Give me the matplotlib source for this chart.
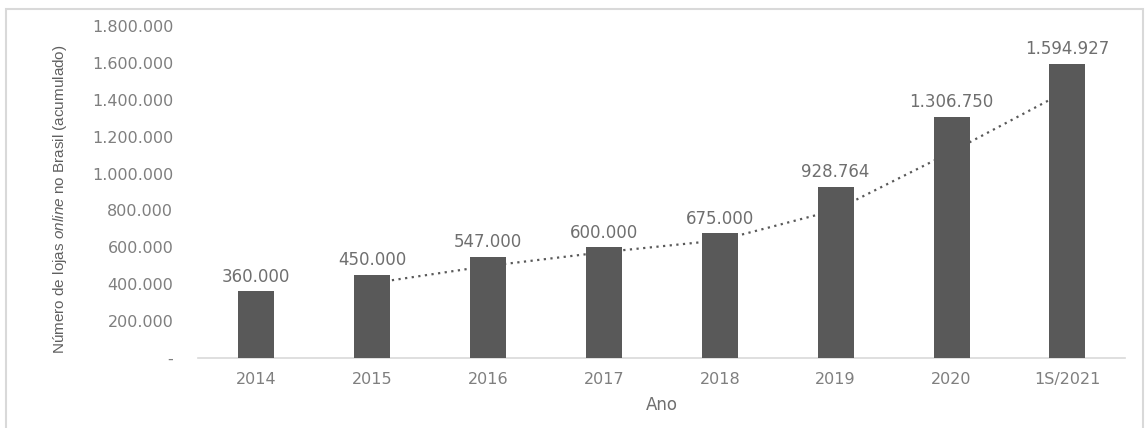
import matplotlib.pyplot as plt
import numpy as np
from matplotlib.patches import Rectangle
from matplotlib.ticker import FuncFormatter

# dados
anos = ["2014", "2015", "2016", "2017", "2018", "2019", "2020", "1S/2021"]
lojas = [360000, 450000, 547000, 600000, 675000, 928764, 1306750, 1594927]

cor_barra = "#595959"
cor_texto = "#7f7f7f"

plt.rcParams["mathtext.fontset"] = "custom"
plt.rcParams["mathtext.it"] = "Liberation Sans:italic"
plt.rcParams["mathtext.rm"] = "Liberation Sans"

def fmt_br(v, pos=None):
    if v == 0:
        return "-"
    return f"{int(v):,}".replace(",", ".")

fig = plt.figure(figsize=(11.46, 4.28), dpi=100)
ax = fig.add_axes([0.173, 0.164, 0.809, 0.775])

x = np.arange(len(anos))
ax.bar(x, lojas, width=0.31, color=cor_barra, zorder=3)

# media movel de 2 periodos (linha de tendencia pontilhada)
mm = [(lojas[i - 1] + lojas[i]) / 2 for i in range(1, len(lojas))]
ax.plot(x[1:], mm, linestyle=(0, (1, 2)), color="#595959", linewidth=1.6, zorder=2)

for xi, v in zip(x, lojas):
    ax.text(xi, v + 30000, fmt_br(v), ha="center", va="bottom",
            fontsize=12, color="#6f6f6f")

ax.set_xlim(-0.5, len(anos) - 0.5)
ax.set_ylim(0, 1800000)
ax.set_yticks(np.arange(0, 1800001, 200000))
ax.yaxis.set_major_formatter(FuncFormatter(fmt_br))
ax.set_xticks(x)
ax.set_xticklabels(anos)
ax.tick_params(axis="both", length=0, labelsize=11.5, labelcolor=cor_texto)
ax.tick_params(axis="y", pad=18)
ax.tick_params(axis="x", pad=10)

for s in ["top", "right", "left"]:
    ax.spines[s].set_visible(False)
ax.spines["bottom"].set_color("#d9d9d9")
ax.spines["bottom"].set_linewidth(1.2)

ax.set_xlabel("Ano", fontsize=12, color="#6f6f6f", labelpad=7)

fig.text(0.052, 0.535, "Número de lojas $\\it{online}$ no Brasil (acumulado)",
         fontsize=11, color="#5f5f5f", rotation=90, va="center", ha="center",
         family="Liberation Sans")

# moldura
fig.patches.append(Rectangle((0.005, -0.02), 0.992, 1.0, transform=fig.transFigure,
                             fill=False, edgecolor="#d9d9d9", linewidth=1.5))

fig.savefig("out.png", dpi=100)
